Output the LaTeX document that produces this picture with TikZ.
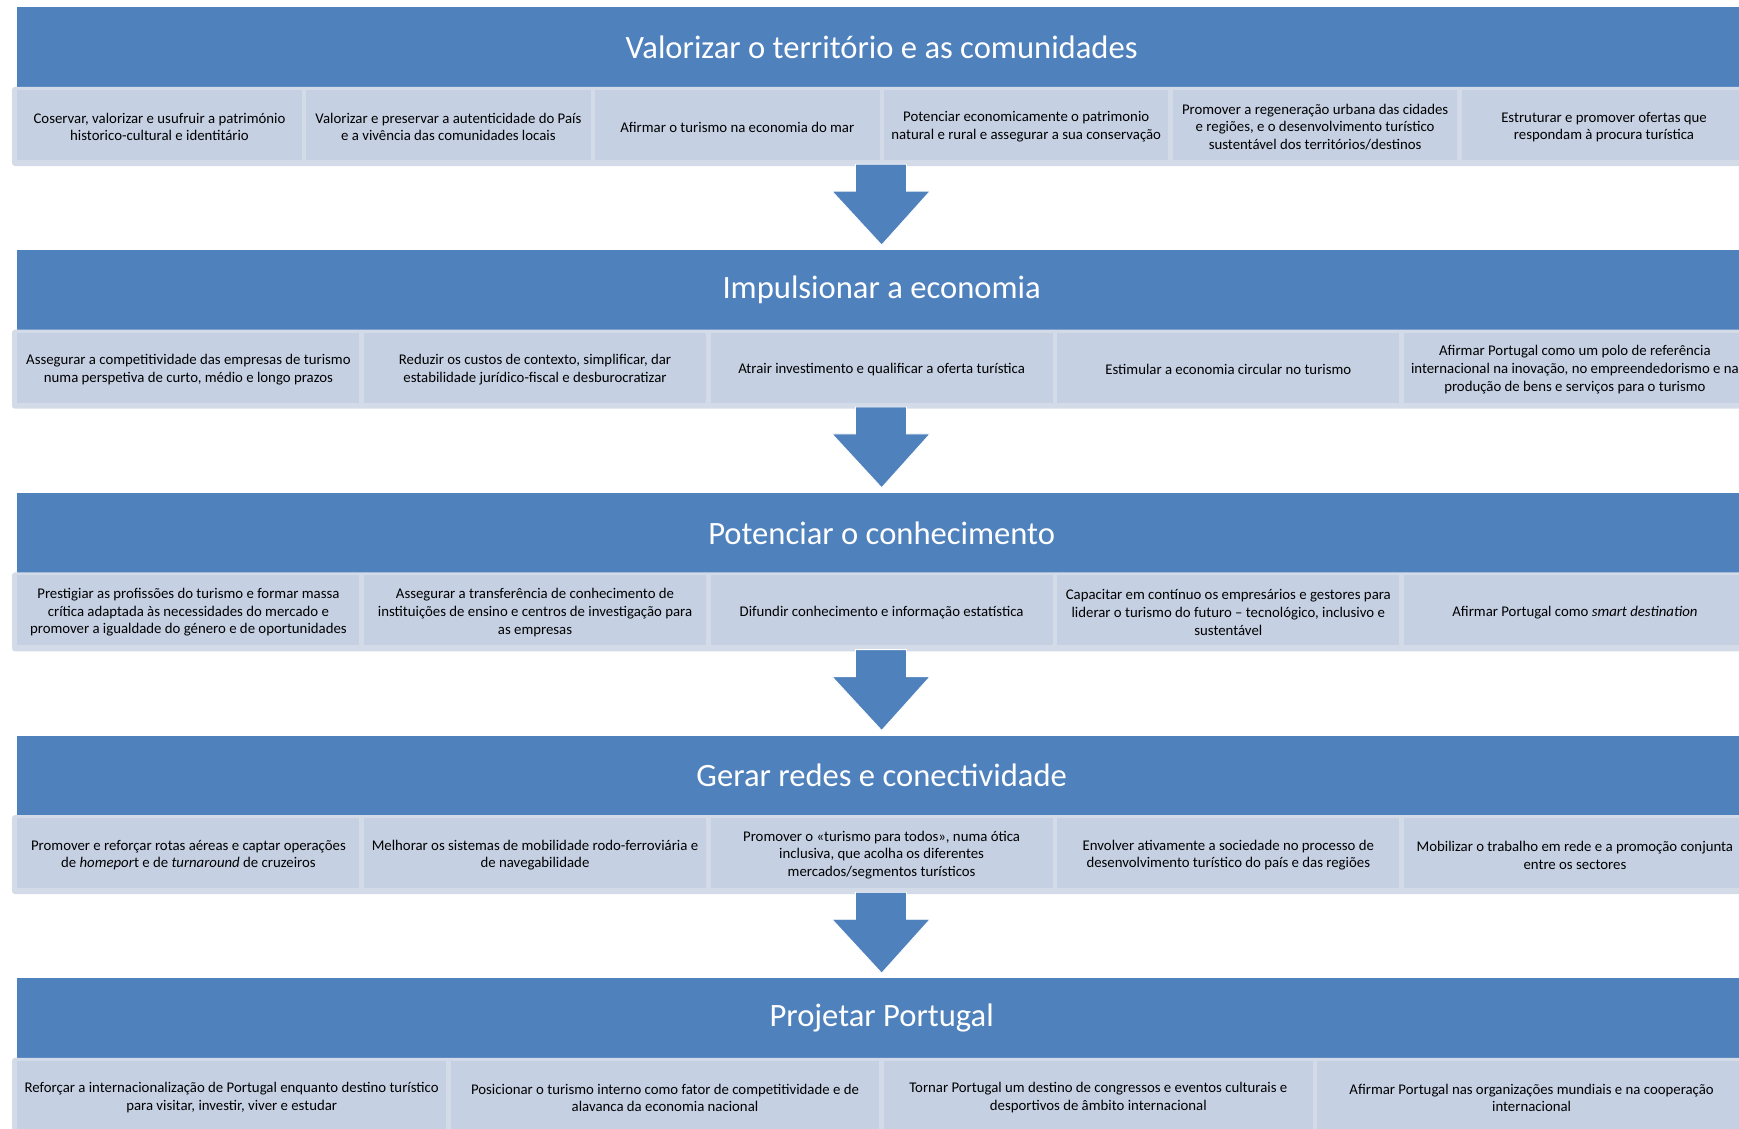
\documentclass[tikz,border=0pt]{standalone}
\usepackage{fontspec}
\setmainfont{Carlito}
\usetikzlibrary{calc}
\definecolor{bannerblue}{HTML}{4F81BD}
\definecolor{cellfill}{HTML}{C5D0E3}
\definecolor{stripfill}{HTML}{D3DBE9}
\tikzset{
  banner/.style={fill=bannerblue, draw=none, minimum width=1728.7pt, minimum height=80pt, inner sep=0pt},
  btitle/.style={text=white, font=\fontsize{32.6}{38}\selectfont, inner sep=0pt},
  strip/.style={fill=stripfill, draw=none, rounded corners=3pt, minimum width=1738pt, minimum height=79pt, inner sep=0pt},
  cell/.style={fill=cellfill, draw=none, minimum height=70pt, inner sep=0pt},
  c6/.style={cell, minimum width=284.4pt},
  c5/.style={cell, minimum width=342.1pt},
  c4/.style={cell, minimum width=428.8pt},
  celltext/.style={inner sep=0pt, align=center, text=black, font=\fontsize{14.8}{17.7}\selectfont, yshift=-2pt},
  downarrow/.style={fill=bannerblue, draw=white, line width=0.8pt, line join=miter}
}
\newcommand{\flowarrow}[2]{%
  \filldraw[downarrow] ($(#1.south)+(-25.5,-2)$) -- ($(#1.south)+(25.5,-2)$) -- ($(#1.south)+(25.5,25)$)
    -- ($(#1.south)+(49,25)$) -- ($(#2.north)+(0,-5)$) -- ($(#1.south)+(-49,25)$)
    -- ($(#1.south)+(-25.5,25)$) -- cycle;}
% box with its text placed slightly lower
\newcommand{\cellbox}[4]{%
  \node[#1] (#2) at #3 {};
  \node[celltext] (#2t) at (#2.center) {#4};}
\newcommand{\bannerbox}[3]{%
  \node[banner] (#1) at #2 {};
  \node[btitle] (#1t) at (#1.center) {#3};}
\begin{document}
\begin{tikzpicture}[x=1pt,y=-1pt]
\useasboundingbox (0,0) rectangle (1739,1129);
\clip (0,0) rectangle (1739,1129);
\fill[white] (0,0) rectangle (1739,1129);

% ---------- Stage 1
\bannerbox{b1}{(881.65,47.5)}{Valorizar o território e as comunidades}
\node[strip] (s1) at (881,126.5) {};
\cellbox{c6}{r1c1}{(159.5,125)}{Coservar, valorizar e usufruir a património\\historico-cultural e identitário}
\cellbox{c6}{r1c2}{(448.4,125)}{Valorizar e preservar a autenticidade do País\\e a vivência das comunidades locais}
\cellbox{c6}{r1c3}{(737.3,125)}{Afirmar o turismo na economia do mar}
\cellbox{c6}{r1c4}{(1026.2,125)}{Potenciar economicamente o patrimonio\\natural e rural e assegurar a sua conservação}
\cellbox{c6}{r1c5}{(1315.1,125)}{Promover a regeneração urbana das cidades\\e regiões, e o desenvolvimento turístico\\sustentável dos territórios/destinos}
\cellbox{c6}{r1c6}{(1604.0,125)}{Estruturar e promover ofertas que\\respondam à procura turística}

% ---------- Stage 2
\bannerbox{b2}{(881.65,290.2)}{Impulsionar a economia}
\node[strip] (s2) at (881,369.2) {};
\cellbox{c5}{r2c1}{(188.4,367.7)}{Assegurar a competitividade das empresas de turismo\\numa perspetiva de curto, médio e longo prazos}
\cellbox{c5}{r2c2}{(535.0,367.7)}{Reduzir os custos de contexto, simplificar, dar\\estabilidade jurídico-fiscal e desburocratizar}
\cellbox{c5}{r2c3}{(881.6,367.7)}{Atrair investimento e qualificar a oferta turística}
\cellbox{c5}{r2c4}{(1228.3,367.7)}{Estimular a economia circular no turismo}
\cellbox{c5}{r2c5}{(1574.9,367.7)}{Afirmar Portugal como um polo de referência\\internacional na inovação, no empreendedorismo e na\\produção de bens e serviços para o turismo}

% ---------- Stage 3
\bannerbox{b3}{(881.65,532.9)}{Potenciar o conhecimento}
\node[strip] (s3) at (881,611.9) {};
\cellbox{c5}{r3c1}{(188.4,610.4)}{Prestigiar as profissões do turismo e formar massa\\crítica adaptada às necessidades do mercado e\\promover a igualdade do género e de oportunidades}
\cellbox{c5}{r3c2}{(535.0,610.4)}{Assegurar a transferência de conhecimento de\\instituições de ensino e centros de investigação para\\as empresas}
\cellbox{c5}{r3c3}{(881.6,610.4)}{Difundir conhecimento e informação estatística}
\cellbox{c5}{r3c4}{(1228.3,610.4)}{Capacitar em contínuo os empresários e gestores para\\liderar o turismo do futuro – tecnológico, inclusivo e\\sustentável}
\cellbox{c5}{r3c5}{(1574.9,610.4)}{Afirmar Portugal como \textit{smart destination}}

% ---------- Stage 4
\bannerbox{b4}{(881.65,775.6)}{Gerar redes e conectividade}
\node[strip] (s4) at (881,854.6) {};
\cellbox{c5}{r4c1}{(188.4,853.1)}{Promover e reforçar rotas aéreas e captar operações\\de \textit{homepor}t e de \textit{turnaround} de cruzeiros}
\cellbox{c5}{r4c2}{(535.0,853.1)}{Melhorar os sistemas de mobilidade rodo-ferroviária e\\de navegabilidade}
\cellbox{c5}{r4c3}{(881.6,853.1)}{Promover o «turismo para todos», numa ótica\\inclusiva, que acolha os diferentes\\mercados/segmentos turísticos}
\cellbox{c5}{r4c4}{(1228.3,853.1)}{Envolver ativamente a sociedade no processo de\\desenvolvimento turístico do país e das regiões}
\cellbox{c5}{r4c5}{(1574.9,853.1)}{Mobilizar o trabalho em rede e a promoção conjunta\\entre os sectores}

% ---------- Stage 5
\bannerbox{b5}{(881.65,1018.3)}{Projetar Portugal}
\node[strip] (s5) at (881,1097.3) {};
\cellbox{c4}{r5c1}{(231.7,1095.8)}{Reforçar a internacionalização de Portugal enquanto destino turístico\\para visitar, investir, viver e estudar}
\cellbox{c4}{r5c2}{(665.0,1095.8)}{Posicionar o turismo interno como fator de competitividade e de\\alavanca da economia nacional}
\cellbox{c4}{r5c3}{(1098.3,1095.8)}{Tornar Portugal um destino de congressos e eventos culturais e\\desportivos de âmbito internacional}
\cellbox{c4}{r5c4}{(1531.6,1095.8)}{Afirmar Portugal nas organizações mundiais e na cooperação\\internacional}

% ---------- Arrows
\flowarrow{s1}{b2}
\flowarrow{s2}{b3}
\flowarrow{s3}{b4}
\flowarrow{s4}{b5}
\end{tikzpicture}
\end{document}
